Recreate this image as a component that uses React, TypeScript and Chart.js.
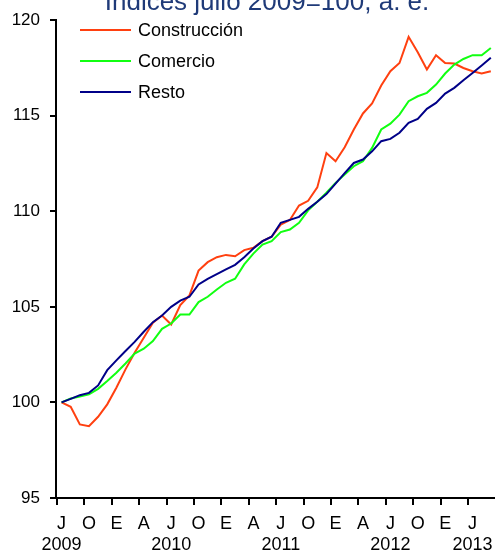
import React, { useEffect, useRef } from 'react';
import { Chart, registerables } from 'chart.js';

Chart.register(...registerables);

// Monthly categories: Jul 2009 – Jun 2013
const categories = [
  'jul-09','ago-09','sep-09','oct-09','nov-09','dic-09',
  'ene-10','feb-10','mar-10','abr-10','may-10','jun-10','jul-10','ago-10','sep-10','oct-10','nov-10','dic-10',
  'ene-11','feb-11','mar-11','abr-11','may-11','jun-11','jul-11','ago-11','sep-11','oct-11','nov-11','dic-11',
  'ene-12','feb-12','mar-12','abr-12','may-12','jun-12','jul-12','ago-12','sep-12','oct-12','nov-12','dic-12',
  'ene-13','feb-13','mar-13','abr-13','may-13','jun-13',
];

const construccion = [
  100.0, 99.77, 98.85, 98.76, 99.25, 99.9, 100.77, 101.73, 102.6, 103.38, 104.17, 104.55,
  104.08, 105.1, 105.6, 106.9, 107.34, 107.6, 107.72, 107.65, 107.97, 108.09, 108.44, 108.67,
  109.3, 109.55, 110.3, 110.55, 111.25, 113.05, 112.62, 113.35, 114.28, 115.12, 115.64, 116.58,
  117.33, 117.76, 119.13, 118.32, 117.42, 118.17, 117.76, 117.73, 117.5, 117.33, 117.21, 117.33,
];

const comercio = [
  100.0, 100.21, 100.31, 100.42, 100.71, 101.12, 101.55, 102.04, 102.56, 102.81, 103.21, 103.85,
  104.13, 104.6, 104.6, 105.25, 105.53, 105.91, 106.26, 106.47, 107.22, 107.79, 108.26, 108.44,
  108.91, 109.05, 109.4, 110.05, 110.5, 110.97, 111.49, 111.92, 112.36, 112.62, 113.32, 114.28,
  114.59, 115.06, 115.76, 116.02, 116.2, 116.63, 117.21, 117.68, 117.97, 118.17, 118.17, 118.55,
];

const resto = [
  100.0, 100.19, 100.38, 100.5, 100.89, 101.69, 102.2, 102.69, 103.17, 103.7, 104.2, 104.55,
  105.0, 105.33, 105.53, 106.17, 106.47, 106.71, 106.96, 107.2, 107.6, 108.05, 108.44, 108.67,
  109.4, 109.55, 109.71, 110.13, 110.5, 110.9, 111.45, 112.0, 112.53, 112.71, 113.14, 113.67,
  113.79, 114.11, 114.63, 114.84, 115.36, 115.67, 116.16, 116.46, 116.86, 117.24, 117.63, 118.03,
];

const seriesNames = ['Construcción', 'Comercio', 'Resto'];
const seriesColors = ['#FF4010', '#11FF11', '#000088'];

// x-axis tick labels (category index, month letter, year)
const tickIndexes = [0, 3, 6, 9, 12, 15, 18, 21, 24, 27, 30, 33, 36, 39, 42, 45];
const tickMonths = ['J', 'O', 'E', 'A', 'J', 'O', 'E', 'A', 'J', 'O', 'E', 'A', 'J', 'O', 'E', 'J'];
const tickYears = ['2009', '', '', '', '2010', '', '', '', '2011', '', '', '', '2012', '', '', '2013'];

const yMin = 95;
const yMax = 120;
const yStep = 5;

const titleText = 'Índices julio 2009=100, a. e.';

const FONT = '"Liberation Sans", Arial, sans-serif';

export default function App() {
  const canvasRef = useRef<HTMLCanvasElement | null>(null);

  useEffect(() => {
    document.body.style.margin = '0';
    const canvas = canvasRef.current;
    if (!canvas) return;

    const overlay = {
      id: 'overlay',
      afterDraw(chart: any) {
        const ctx = chart.ctx;
        ctx.save();
        // title (partially cut at top, as in reference)
        ctx.fillStyle = '#1F3A78';
        ctx.font = `26px ${FONT}`;
        ctx.textAlign = 'center';
        ctx.textBaseline = 'alphabetic';
        ctx.fillText(titleText, 267, 10);
        // legend
        ctx.font = `18px ${FONT}`;
        ctx.textAlign = 'left';
        ctx.textBaseline = 'middle';
        const rows = [30, 61, 92];
        seriesNames.forEach((name, k) => {
          const y = rows[k];
          ctx.strokeStyle = seriesColors[k];
          ctx.lineWidth = 2;
          ctx.beginPath();
          ctx.moveTo(80, y);
          ctx.lineTo(131, y);
          ctx.stroke();
          ctx.fillStyle = '#000';
          ctx.fillText(name, 138, y + 1);
        });
        ctx.restore();
      },
    };

    const mk = (arr: number[]) => arr.map((v, i) => ({ x: i, y: v }));

    const chart = new Chart(canvas, {
      type: 'line',
      data: {
        labels: categories,
        datasets: [
          { label: seriesNames[0], data: mk(construccion), borderColor: seriesColors[0], borderWidth: 2, pointRadius: 0, tension: 0, fill: false, order: 3 },
          { label: seriesNames[1], data: mk(comercio), borderColor: seriesColors[1], borderWidth: 2, pointRadius: 0, tension: 0, fill: false, order: 2 },
          { label: seriesNames[2], data: mk(resto), borderColor: seriesColors[2], borderWidth: 2, pointRadius: 0, tension: 0, fill: false, order: 1 },
        ],
      },
      options: {
        responsive: false,
        animation: false,
        layout: { padding: { top: 20, left: 0, right: 0, bottom: 0 } },
        plugins: {
          legend: { display: false },
          tooltip: { enabled: false },
          title: { display: false },
        },
        scales: {
          x: {
            type: 'linear',
            min: -0.61,
            max: 47.4,
            afterBuildTicks: (scale: any) => {
              scale.ticks = tickIndexes.map((i) => ({ value: i - 0.5 }));
            },
            afterFit: (scale: any) => {
              scale.height = 55;
            },
            grid: {
              display: true,
              drawOnChartArea: false,
              drawTicks: true,
              tickLength: 7,
              color: '#000',
              lineWidth: 2,
            },
            border: { display: true, color: '#000', width: 2 },
            ticks: {
              autoSkip: false,
              maxRotation: 0,
              minRotation: 0,
              padding: 8,
              labelOffset: 4.6,
              color: '#000',
              font: { family: FONT, size: 18, lineHeight: 1.2 },
              callback: (_v: any, idx: number) => {
                const y = tickYears[idx];
                return y ? [tickMonths[idx], y] : [tickMonths[idx]];
              },
            },
          },
          y: {
            min: yMin,
            max: yMax,
            afterFit: (scale: any) => {
              scale.width = 56;
            },
            grid: {
              display: true,
              drawOnChartArea: false,
              drawTicks: true,
              tickLength: 6,
              color: '#000',
              lineWidth: 2,
            },
            border: { display: true, color: '#000', width: 2 },
            ticks: {
              stepSize: yStep,
              padding: 10,
              color: '#000',
              font: { family: FONT, size: 17 },
            },
          },
        },
      },
      plugins: [overlay],
    } as any);

    return () => chart.destroy();
  }, []);

  return (
    <canvas
      ref={canvasRef}
      width={496}
      height={553}
      style={{ display: 'block', width: 496, height: 553 }}
    />
  );
}
